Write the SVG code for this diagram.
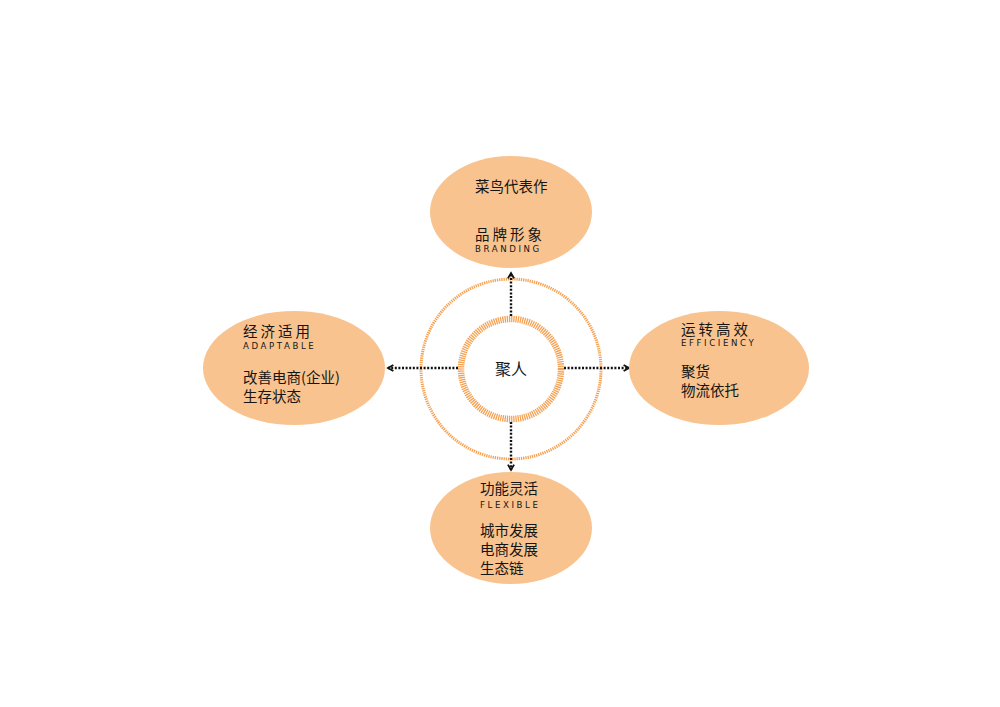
<svg xmlns="http://www.w3.org/2000/svg" width="1000" height="707" viewBox="0 0 1000 707">
<style>
.node{fill:#f8c38e;}
.cn{font-family:"Noto Sans CJK SC","Noto Sans",sans-serif;font-size:14.5px;fill:#151515;}
.sp{letter-spacing:3px;}
.en{font-family:"DejaVu Sans",sans-serif;font-size:8.6px;fill:#151515;letter-spacing:2.6px;}
.ring1{fill:none;stroke:#f6a050;stroke-width:3;stroke-dasharray:1.3 0.9;}
.ring2{fill:none;stroke:#f6a050;stroke-width:6.5;stroke-dasharray:1.3 0.9;}
.conn{fill:none;stroke:#111;stroke-width:2.4;stroke-dasharray:2 1.6;}
</style>
<defs>
<marker id="arr" viewBox="0 0 10 10" refX="8" refY="5" markerWidth="3.2" markerHeight="3.2" orient="auto" markerUnits="strokeWidth">
<path d="M1,1 L8,5 L1,9" fill="none" stroke="#111" stroke-width="2.4"/>
</marker>
</defs>
<rect width="1000" height="707" fill="#ffffff"/>
<g id="center">
<circle class="ring1" cx="511" cy="369" r="90"/>
<circle class="ring2" cx="511" cy="369" r="50"/>
<text class="cn" x="511" y="375" text-anchor="middle" style="font-size:16px">聚人</text>
</g>
<g id="connectors">
<line class="conn" x1="511" y1="316" x2="511" y2="273" marker-end="url(#arr)"/>
<line class="conn" x1="511" y1="422" x2="511" y2="470" marker-end="url(#arr)"/>
<line class="conn" x1="564" y1="368" x2="629" y2="368" marker-end="url(#arr)"/>
<line class="conn" x1="458" y1="368" x2="388" y2="368" marker-end="url(#arr)"/>
</g>
<g id="top">
<ellipse class="node" cx="511" cy="212" rx="81" ry="56"/>
<text class="cn" x="475" y="192">菜鸟代表作</text>
<text class="cn sp" x="475" y="240">品牌形象</text>
<text class="en" x="475" y="252">BRANDING</text>
</g>
<g id="left">
<ellipse class="node" cx="294" cy="368" rx="91" ry="57"/>
<text class="cn sp" x="243" y="337">经济适用</text>
<text class="en" x="243" y="349">ADAPTABLE</text>
<text class="cn" x="243" y="383">改善电商(企业)</text>
<text class="cn" x="243" y="402">生存状态</text>
</g>
<g id="right">
<ellipse class="node" cx="719" cy="368" rx="90" ry="57"/>
<text class="cn sp" x="681" y="335">运转高效</text>
<text class="en" x="681" y="346">EFFICIENCY</text>
<text class="cn" x="681" y="377">聚货</text>
<text class="cn" x="681" y="396">物流依托</text>
</g>
<g id="bottom">
<ellipse class="node" cx="511" cy="528" rx="81" ry="56"/>
<text class="cn" x="480" y="494">功能灵活</text>
<text class="en" x="480" y="508">FLEXIBLE</text>
<text class="cn" x="480" y="536">城市发展</text>
<text class="cn" x="480" y="555">电商发展</text>
<text class="cn" x="480" y="574">生态链</text>
</g>
</svg>
